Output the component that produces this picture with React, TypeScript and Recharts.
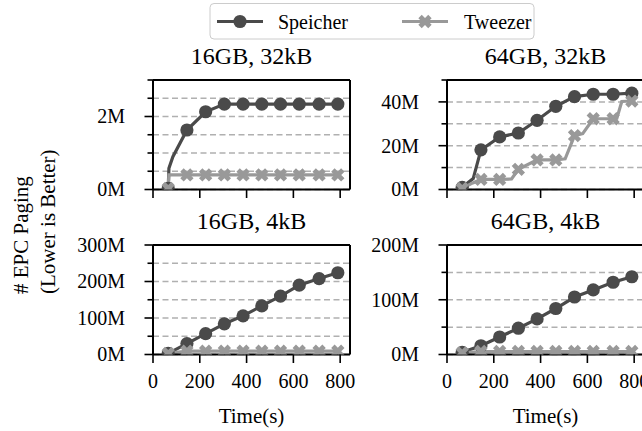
import React from "react";
import {
  LineChart,
  Line,
  XAxis,
  YAxis,
  CartesianGrid,
  ReferenceLine,
} from "recharts";

const FONT = '"Liberation Serif", "Times New Roman", serif';
const DARK = "#4a4a4a";
const GRAY = "#999999";

// sample times that carry a marker
const markTimes = [65, 145, 225, 305, 385, 465, 545, 625, 710, 790];
const xTicks = [0, 200, 400, 600, 800];

// 16GB, 32kB (millions)
const s16k32Time = [65, 68, 85, 145, 225, 305, 385, 465, 545, 625, 710, 790];
const s16k32Val = [0.03, 0.58, 0.9, 1.63, 2.13, 2.34, 2.34, 2.34, 2.34, 2.34, 2.34, 2.34];
const t16k32Time = [65, 68, 145, 225, 305, 385, 465, 545, 625, 710, 790];
const t16k32Val = [0.03, 0.4, 0.4, 0.4, 0.4, 0.4, 0.4, 0.4, 0.4, 0.4, 0.4];

// 64GB, 32kB
const s64k32Time = [65, 112, 145, 225, 305, 385, 465, 545, 625, 710, 790];
const s64k32Val = [1.0, 5, 18.1, 24, 25.8, 31.6, 38, 42.4, 43.5, 43.5, 44];
const t64k32Time = [65, 110, 145, 225, 276, 305, 385, 465, 505, 545, 580, 625, 710, 726, 747, 790];
const t64k32Val = [0.5, 3, 4.6, 4.6, 4.8, 9.2, 13.5, 13.5, 14, 24.6, 25.5, 32.3, 32.3, 32.5, 40.2, 40.4];

// 16GB, 4kB
const s16k4Val = [3, 30, 57, 84, 106, 133, 160, 190, 208, 224];
const t16k4Val = [3, 9, 9, 9, 9, 9, 9, 9, 9, 9];

// 64GB, 4kB
const s64k4Val = [4, 16, 32, 48, 65, 84, 105, 118, 132, 142];
const t64k4Val = [3, 5.5, 5.5, 5.5, 5.5, 5.5, 5.5, 5.5, 5.5, 5.5];

const toRows = (times: number[], vals: number[]) =>
  times.map((t, i) => ({ t, v: vals[i] }));

const AXIS_X = 90; // chart-local x of the left frame
const TOP_PAD = 10;

const xMarkPoints = (cx: number, cy: number, h = 7, w = 2.4) => {
  const pts = [
    [-w, -h], [w, -h], [w, -w], [h, -w], [h, w], [w, w],
    [w, h], [-w, h], [-w, w], [-h, w], [-h, -w], [-w, -w],
  ];
  const c = Math.SQRT1_2;
  return pts
    .map(([x, y]) => `${cx + (x - y) * c},${cy + (x + y) * c}`)
    .join(" ");
};

const speicherDot = (props: any) => {
  const { cx, cy, index, payload } = props;
  if (!markTimes.includes(payload.t)) return <g key={`sd-${index}`} />;
  return <circle key={`sd-${index}`} cx={cx} cy={cy} r={6.6} fill={DARK} />;
};

const tweezerDot = (props: any) => {
  const { cx, cy, index, payload } = props;
  if (!markTimes.includes(payload.t)) return <g key={`td-${index}`} />;
  return <polygon key={`td-${index}`} points={xMarkPoints(cx, cy)} fill={GRAY} />;
};

interface PanelProps {
  left: number;
  top: number;
  plotH: number;
  yMax: number;
  yStep: number;
  yLabels: number[];
  showX: boolean;
  speicher: { t: number; v: number }[];
  tweezer: { t: number; v: number }[];
}

const Panel: React.FC<PanelProps> = ({
  left, top, plotH, yMax, yStep, yLabels, showX, speicher, tweezer,
}) => {
  const yTicks: number[] = [];
  for (let v = 0; v <= yMax + 1e-9; v += yStep) yTicks.push(+v.toFixed(3));
  const bottom = TOP_PAD + plotH;

  const yTick = (p: any) => {
    const major = yLabels.includes(p.payload.value);
    return (
      <g>
        <line x1={AXIS_X - (major ? 8.5 : 5.5)} x2={AXIS_X} y1={p.y} y2={p.y} stroke="#000" strokeWidth={1.6} />
        {major && (
          <text x={AXIS_X - 28} y={p.y} dy={6.8} textAnchor="end" fontSize={20} fontFamily={FONT} fill="#000">
            {`${p.payload.value}M`}
          </text>
        )}
      </g>
    );
  };

  const xTick = (p: any) => (
    <g>
      <line x1={p.x} x2={p.x} y1={bottom} y2={bottom + 8.5} stroke="#000" strokeWidth={1.6} />
      {showX && (
        <text x={p.x} y={bottom + 33.5} textAnchor="middle" fontSize={20} fontFamily={FONT} fill="#000">
          {p.payload.value}
        </text>
      )}
    </g>
  );

  return (
    <div style={{ position: "absolute", left: left - AXIS_X, top: top - TOP_PAD }}>
      <LineChart
        width={AXIS_X + 197 + 10}
        height={TOP_PAD + plotH + 40}
        margin={{ top: TOP_PAD, right: 10, bottom: 0, left: 0 }}
      >
        <CartesianGrid
          horizontal
          vertical={false}
          stroke="#b0b0b0"
          strokeWidth={1.5}
          strokeDasharray="6 3.5"
        />
        <XAxis
          dataKey="t"
          type="number"
          domain={[0, 842]}
          ticks={xTicks}
          interval={0}
          allowDataOverflow
          height={40}
          axisLine={{ stroke: "#000", strokeWidth: 2 }}
          tickLine={false}
          tick={xTick}
        />
        <YAxis
          type="number"
          domain={[0, yMax]}
          ticks={yTicks}
          interval={0}
          allowDataOverflow
          width={AXIS_X}
          axisLine={{ stroke: "#000", strokeWidth: 2 }}
          tickLine={false}
          tick={yTick}
        />
        <Line
          data={speicher}
          dataKey="v"
          stroke={DARK}
          strokeWidth={3.2}
          dot={speicherDot}
          activeDot={false}
          isAnimationActive={false}
        />
        <Line
          data={tweezer}
          dataKey="v"
          stroke={GRAY}
          strokeWidth={3.2}
          dot={tweezerDot}
          activeDot={false}
          isAnimationActive={false}
        />
        <ReferenceLine y={yMax} stroke="#000" strokeWidth={2} />
        <ReferenceLine x={842} stroke="#000" strokeWidth={2} />
      </LineChart>
    </div>
  );
};

const App: React.FC = () => {
  return (
    <div
      style={{
        position: "absolute",
        left: 0,
        top: 0,
        width: 642,
        height: 431,
        overflow: "hidden",
        background: "#fff",
        fontFamily: FONT,
      }}
    >
      <Panel left={153} top={80} plotH={109.5} yMax={3} yStep={0.5} yLabels={[0, 2]} showX={false}
        speicher={toRows(s16k32Time, s16k32Val)} tweezer={toRows(t16k32Time, t16k32Val)} />
      <Panel left={447} top={80} plotH={109.5} yMax={50} yStep={10} yLabels={[0, 20, 40]} showX={false}
        speicher={toRows(s64k32Time, s64k32Val)} tweezer={toRows(t64k32Time, t64k32Val)} />
      <Panel left={153} top={245} plotH={109.5} yMax={300} yStep={50} yLabels={[0, 100, 200, 300]} showX
        speicher={toRows(markTimes, s16k4Val)} tweezer={toRows(markTimes, t16k4Val)} />
      <Panel left={447} top={245} plotH={109.5} yMax={200} yStep={50} yLabels={[0, 100, 200]} showX
        speicher={toRows(markTimes, s64k4Val)} tweezer={toRows(markTimes, t64k4Val)} />

      <svg width={642} height={431} style={{ position: "absolute", left: 0, top: 0, pointerEvents: "none" }}>
        {/* legend */}
        <rect x={210} y={3.5} width={324} height={35.5} rx={4} fill="#fff" fillOpacity={0.85} stroke="#cccccc" strokeWidth={1} />
        <line x1={217} x2={263} y1={21.5} y2={21.5} stroke={DARK} strokeWidth={3.2} />
        <circle cx={240} cy={21.5} r={6.6} fill={DARK} />
        <text x={278} y={28.5} fontSize={20} fontFamily={FONT}>Speicher</text>
        <line x1={402} x2={448} y1={21.5} y2={21.5} stroke={GRAY} strokeWidth={3.2} />
        <polygon points={xMarkPoints(425, 21.5)} fill={GRAY} />
        <text x={464} y={28.5} fontSize={20} fontFamily={FONT}>Tweezer</text>

        {/* titles */}
        <text x={251.5} y={64} textAnchor="middle" fontSize={24} fontFamily={FONT}>16GB, 32kB</text>
        <text x={545.5} y={64} textAnchor="middle" fontSize={24} fontFamily={FONT}>64GB, 32kB</text>
        <text x={251.5} y={229} textAnchor="middle" fontSize={24} fontFamily={FONT}>16GB, 4kB</text>
        <text x={545.5} y={229} textAnchor="middle" fontSize={24} fontFamily={FONT}>64GB, 4kB</text>

        {/* axis labels */}
        <text x={251.5} y={423} textAnchor="middle" fontSize={21} fontFamily={FONT}>Time(s)</text>
        <text x={545.5} y={423} textAnchor="middle" fontSize={21} fontFamily={FONT}>Time(s)</text>
        <text transform="translate(28,294) rotate(-90)" fontSize={21} fontFamily={FONT}># EPC Paging</text>
        <text transform="translate(55,294) rotate(-90)" fontSize={21} fontFamily={FONT}>(Lower is Better)</text>
      </svg>
    </div>
  );
};

export default App;
